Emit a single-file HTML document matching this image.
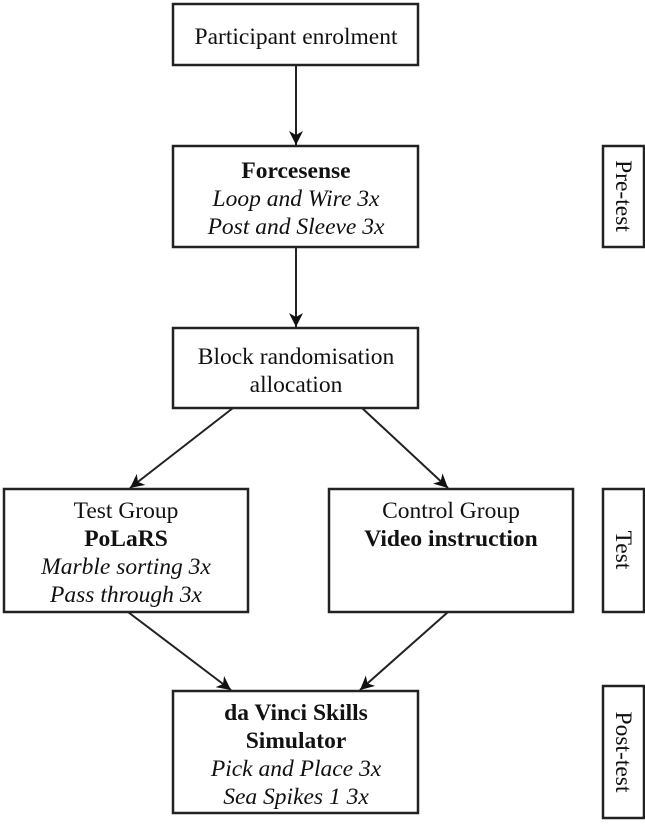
<!DOCTYPE html>
<html><head><style>
body{margin:0;background:#fff;}
svg{display:block}
text{font-family:"Liberation Serif",serif;font-size:23.5px;fill:#111;text-anchor:middle}
.b{font-weight:bold}.i{font-style:italic}
rect{fill:#fff;stroke:#222;stroke-width:2.5}
line{stroke:#222;stroke-width:2}
</style></head><body>
<svg width="645" height="824" viewBox="0 0 645 824">
<defs>
<marker id="a2" markerWidth="16" markerHeight="14" refX="14" refY="7" orient="auto" markerUnits="userSpaceOnUse"><path d="M0,0 L14,7 L0,14 L4,7 z" fill="#111"/></marker></defs>
<line x1="296" y1="65" x2="296" y2="145" marker-end="url(#a2)"/>
<line x1="296" y1="247" x2="296" y2="327" marker-end="url(#a2)"/>
<line x1="233" y1="408" x2="130" y2="488" marker-end="url(#a2)"/>
<line x1="362" y1="408" x2="448" y2="488" marker-end="url(#a2)"/>
<line x1="128" y1="612" x2="231" y2="690" marker-end="url(#a2)"/>
<line x1="448" y1="612" x2="360" y2="690" marker-end="url(#a2)"/>
<rect x="173" y="4" width="245" height="61"/>
<text x="296" y="44">Participant enrolment</text>
<rect x="173" y="146" width="245" height="101"/>
<text x="296" y="178" class="b">Forcesense</text>
<text x="296" y="206" class="i">Loop and Wire 3x</text>
<text x="296" y="234" class="i">Post and Sleeve 3x</text>
<rect x="173" y="328" width="245" height="80"/>
<text x="296" y="364">Block randomisation</text>
<text x="296" y="392">allocation</text>
<rect x="4" y="489" width="244" height="123"/>
<text x="126" y="518">Test Group</text>
<text x="126" y="546" class="b">PoLaRS</text>
<text x="126" y="574" class="i">Marble sorting 3x</text>
<text x="126" y="602" class="i">Pass through 3x</text>
<rect x="329" y="489" width="244" height="123"/>
<text x="451" y="518">Control Group</text>
<text x="451" y="546" class="b">Video instruction</text>
<rect x="173" y="691" width="245" height="122"/>
<text x="296" y="720" class="b">da Vinci Skills</text>
<text x="296" y="748" class="b">Simulator</text>
<text x="296" y="776" class="i">Pick and Place 3x</text>
<text x="296" y="804" class="i">Sea Spikes 1 3x</text>
<rect x="603" y="146" width="41" height="101"/>
<text transform="translate(616,196) rotate(90)">Pre-test</text>
<rect x="603" y="489" width="41" height="123"/>
<text transform="translate(616,550) rotate(90)">Test</text>
<rect x="603" y="686" width="41" height="132"/>
<text transform="translate(616,752) rotate(90)">Post-test</text>
</svg>
</body></html>
